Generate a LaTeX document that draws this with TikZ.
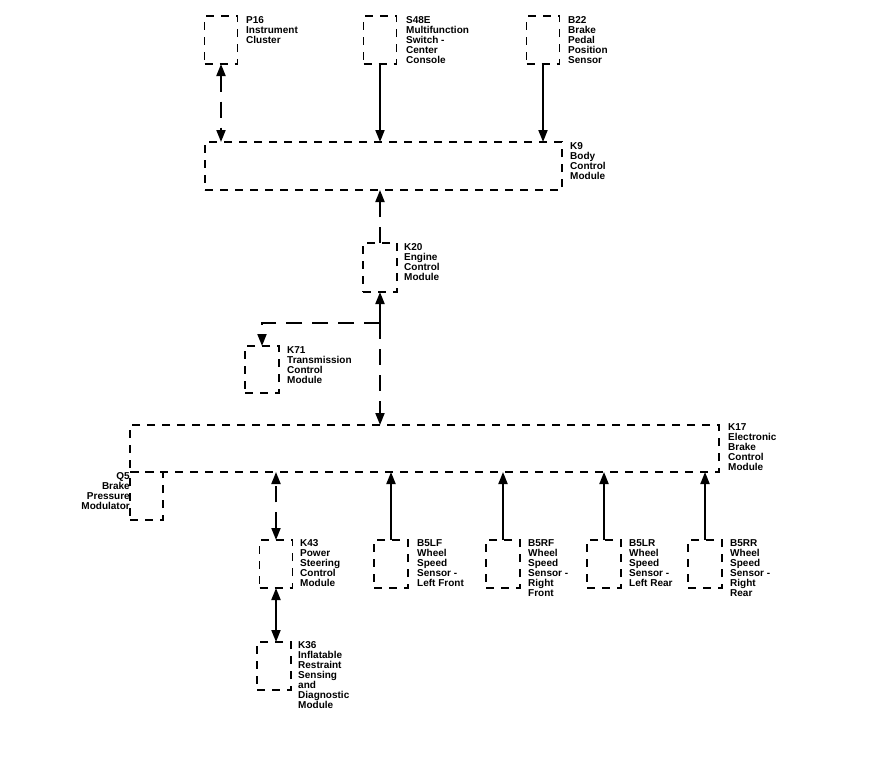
\documentclass[tikz,border=0pt]{standalone}
\usepackage{fontspec}
\setmainfont{Liberation Sans}
\usetikzlibrary{arrows.meta}
\begin{document}
\begin{tikzpicture}[x=1pt,y=-1pt,
  box/.style={draw=black, line width=1.7pt, dash pattern=on 8pt off 7pt, dash phase=0pt, minimum width=33pt, minimum height=48pt, inner sep=0pt, outer sep=0pt},
  lbl/.style={font=\fontsize{10}{10}\selectfont\bfseries, align=left, inner sep=0pt, anchor=north west},
  conn/.style={line width=1.8pt, -{Triangle[length=12pt,width=9pt]}},
  bidir/.style={line width=1.8pt, {Triangle[length=12pt,width=9pt]}-{Triangle[length=12pt,width=9pt]}},
  dsh/.style={dash pattern=on 16pt off 10pt}
]
\useasboundingbox (0,0) rectangle (870,771);
\fill[white] (0,0) rectangle (870,771);

% boxes
\node[box] (p16) at (221,40) {};
\node[box] (s48e) at (380,40) {};
\node[box] (b22) at (543,40) {};
\node[box, minimum width=357pt] (k9) at (383.5,166) {};
\node[box, minimum width=34pt, minimum height=49pt] (k20) at (380,267.5) {};
\node[box, minimum width=34pt, minimum height=47pt] (k71) at (262,369.5) {};
\node[box, minimum width=589pt, minimum height=47pt] (k17) at (424.5,448.5) {};
\node[box] (q5) at (146.5,496) {};
\node[box] (k43) at (276,564) {};
\node[box, minimum width=34pt] (b5lf) at (391,564) {};
\node[box, minimum width=34pt] (b5rf) at (503,564) {};
\node[box, minimum width=34pt] (b5lr) at (604,564) {};
\node[box, minimum width=34pt] (b5rr) at (705,564) {};
\node[box, minimum width=34pt] (k36) at (274,666) {};

% labels
\node[lbl] (p16t) at (246,16) {P16\\Instrument\\Cluster};
\node[lbl] (s48et) at (406,16) {S48E\\Multifunction\\Switch -\\Center\\Console};
\node[lbl] (b22t) at (568,16) {B22\\Brake\\Pedal\\Position\\Sensor};
\node[lbl] (k9t) at (570,142) {K9\\Body\\Control\\Module};
\node[lbl] (k20t) at (404,243) {K20\\Engine\\Control\\Module};
\node[lbl] (k71t) at (287,346) {K71\\Transmission\\Control\\Module};
\node[lbl] (k17t) at (728,423) {K17\\Electronic\\Brake\\Control\\Module};
\node[lbl, anchor=north east, align=right] (q5t) at (130,472) {Q5\\Brake\\Pressure\\Modulator};
\node[lbl] (k43t) at (300,539) {K43\\Power\\Steering\\Control\\Module};
\node[lbl] (b5lft) at (417,539) {B5LF\\Wheel\\Speed\\Sensor -\\Left Front};
\node[lbl] (b5rft) at (528,539) {B5RF\\Wheel\\Speed\\Sensor -\\Right\\Front};
\node[lbl] (b5lrt) at (629,539) {B5LR\\Wheel\\Speed\\Sensor -\\Left Rear};
\node[lbl] (b5rrt) at (730,539) {B5RR\\Wheel\\Speed\\Sensor -\\Right\\Rear};
\node[lbl] (k36t) at (298,641) {K36\\Inflatable\\Restraint\\Sensing\\and\\Diagnostic\\Module};

% connectors
\draw[bidir, dsh] (p16.south) -- (p16.south |- k9.north);
\draw[conn] (s48e.south) -- (s48e.south |- k9.north);
\draw[conn] (b22.south) -- (b22.south |- k9.north);
\draw[conn, dsh] (k20.north) -- (k20.north |- k9.south);
\coordinate (bus) at (380,323);
\draw[conn] (bus) -- (k20.south);
\draw[conn, dsh] (bus) -- (bus -| k71.north) -- (k71.north);
\draw[conn, dsh] (bus) -- (bus |- k17.north);
\draw[bidir, dsh] (k43.north) -- (k43.north |- k17.south);
\draw[bidir] (k43.south) -- (k43.south |- k36.north);
\draw[conn] (b5lf.north) -- (b5lf.north |- k17.south);
\draw[conn] (b5rf.north) -- (b5rf.north |- k17.south);
\draw[conn] (b5lr.north) -- (b5lr.north |- k17.south);
\draw[conn] (b5rr.north) -- (b5rr.north |- k17.south);
\end{tikzpicture}
\end{document}
